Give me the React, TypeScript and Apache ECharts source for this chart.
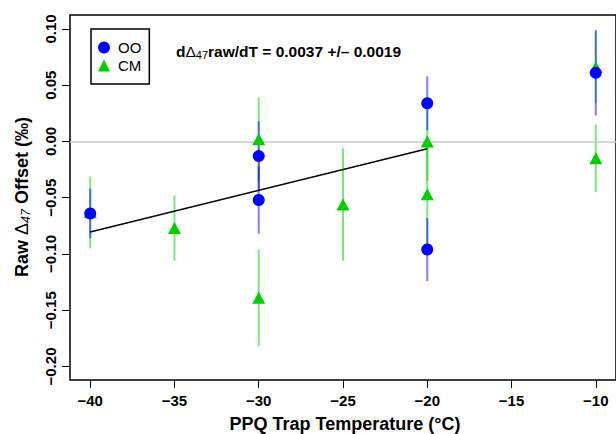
import React, { useEffect, useRef } from 'react';
import * as echarts from 'echarts';

// ---- Data ----
const ooTemps = [-40, -30, -30, -20, -20, -10];
const ooValues = [-0.064, -0.013, -0.052, 0.034, -0.096, 0.061];
const ooErrors = [0.022, 0.031, 0.030, 0.024, 0.028, 0.038];

const cmTemps = [-40, -35, -30, -30, -25, -20, -20, -10, -10];
const cmValues = [-0.063, -0.077, 0.002, -0.139, -0.056, 0.0, -0.047, 0.066, -0.015];
const cmErrors = [0.032, 0.029, 0.037, 0.043, 0.05, 0.035, 0.047, 0.032, 0.03];

const fitTemps = [-40, -20];
const fitValues = [-0.0805, -0.0065];

const slopeText = '0.0037';
const slopeErrText = '0.0019';

const xTicks = [-40, -35, -30, -25, -20, -15, -10];
const yTicks = [-0.2, -0.15, -0.1, -0.05, 0, 0.05, 0.1];

const FONT = '"Liberation Sans", Arial, Helvetica, sans-serif';
const BLUE = '#0000ff';
const GREEN = '#00cd00';
const BLUE_BAR = 'rgba(0,0,255,0.5)';
const GREEN_BAR = 'rgba(0,205,0,0.5)';

const minusify = (s: string) => s.replace('-', '\u2212');

function errorSeries(temps: number[], vals: number[], errs: number[], color: string, z: number) {
  return {
    type: 'custom',
    name: 'err' + z,
    z,
    silent: true,
    data: temps.map((t, i) => [t, vals[i] - errs[i], vals[i] + errs[i]]),
    encode: { x: 0, y: [1, 2] },
    renderItem: (_params: any, api: any) => {
      const p1 = api.coord([api.value(0), api.value(1)]);
      const p2 = api.coord([api.value(0), api.value(2)]);
      return {
        type: 'line',
        shape: { x1: p1[0], y1: p1[1], x2: p2[0], y2: p2[1] },
        style: { stroke: color, lineWidth: 2 },
      };
    },
  };
}

export default function App() {
  const ref = useRef<HTMLDivElement>(null);
  useEffect(() => {
    if (!ref.current) return;
    const chart = echarts.init(ref.current, undefined, { renderer: 'svg' });
    const option: any = {
      animation: false,
      textStyle: { fontFamily: FONT },
      grid: {
        show: true,
        left: 70,
        top: 15,
        width: 548,
        height: 365,
        borderColor: '#000',
        borderWidth: 1.5,
        backgroundColor: 'transparent',
      },
      xAxis: {
        type: 'value',
        min: -41.2,
        max: -8.8,
        axisLine: { show: false, onZero: false },
        splitLine: { show: false },
        axisTick: { show: true, length: 8, customValues: xTicks, lineStyle: { color: '#000', width: 1 } },
        axisLabel: {
          customValues: xTicks,
          margin: 13,
          fontSize: 15,
          fontWeight: 'bold',
          color: '#000',
          fontFamily: FONT,
          formatter: (v: number) => minusify(String(v)),
        },
      },
      yAxis: {
        type: 'value',
        min: -0.212,
        max: 0.1124,
        axisLine: { show: false, onZero: false },
        splitLine: { show: false },
        axisTick: { show: true, length: 8, customValues: yTicks, lineStyle: { color: '#000', width: 1 } },
        axisLabel: {
          customValues: yTicks,
          rotate: 90,
          margin: 12,
          fontSize: 15,
          fontWeight: 'bold',
          color: '#000',
          fontFamily: FONT,
          formatter: (v: number) => (Math.abs(v) < 1e-9 ? '0.00' : minusify(v.toFixed(2))),
        },
      },
      legend: {
        data: [
          { name: 'OO', icon: 'circle' },
          { name: 'CM', icon: 'triangle' },
        ],
        orient: 'vertical',
        left: 91,
        top: 29,
        padding: [11, 8, 11, 7],
        itemWidth: 12,
        itemHeight: 12,
        itemGap: 3,
        borderColor: '#000',
        borderWidth: 1.5,
        selectedMode: false,
        textStyle: { fontSize: 15, color: '#000', fontFamily: FONT, padding: [0, 0, 0, 3] },
      },
      graphic: [
        {
          type: 'text',
          x: 176,
          y: 51,
          style: {
            text: `{b|d}{g|\u0394}{s|47}{b|raw/dT = ${slopeText} +/\u2013 ${slopeErrText}}`,
            align: 'left',
            verticalAlign: 'middle',
            rich: {
              b: { fontSize: 15.5, fontWeight: 'bold', fontFamily: FONT, color: '#000', lineHeight: 18 },
              g: { fontSize: 15.5, fontWeight: 'normal', fontFamily: FONT, color: '#000', lineHeight: 18 },
              s: { fontSize: 11, fontFamily: FONT, color: '#000', lineHeight: 11, verticalAlign: 'bottom' },
            },
          },
        },
        {
          type: 'text',
          x: 345,
          y: 424,
          style: {
            text: 'PPQ Trap Temperature (\u00b0C)',
            align: 'center',
            verticalAlign: 'middle',
            fontSize: 18,
            fontWeight: 'bold',
            fontFamily: FONT,
            fill: '#000',
          },
        },
        {
          type: 'text',
          x: 22,
          y: 197,
          rotation: Math.PI / 2,
          style: {
            text: '{b|Raw }{g|\u0394}{s|47}{b| Offset (\u2030)}',
            align: 'center',
            verticalAlign: 'middle',
            rich: {
              b: { fontSize: 18, fontWeight: 'bold', fontFamily: FONT, color: '#000', lineHeight: 21 },
              g: { fontSize: 18, fontWeight: 'normal', fontFamily: FONT, color: '#000', lineHeight: 21 },
              s: { fontSize: 12.5, fontStyle: 'italic', fontFamily: FONT, color: '#000', lineHeight: 12, verticalAlign: 'bottom' },
            },
          },
        },
      ],
      series: [
        {
          type: 'line',
          name: 'zero',
          z: 1,
          data: [],
          silent: true,
          markLine: {
            silent: true,
            symbol: 'none',
            label: { show: false },
            lineStyle: { color: '#c8c8c8', width: 1.5, type: 'solid' },
            data: [{ yAxis: 0 }],
          },
        },
        errorSeries(cmTemps, cmValues, cmErrors, GREEN_BAR, 2),
        errorSeries(ooTemps, ooValues, ooErrors, BLUE_BAR, 3),
        {
          type: 'line',
          name: 'fit',
          z: 4,
          silent: true,
          symbol: 'none',
          data: fitTemps.map((t, i) => [t, fitValues[i]]),
          lineStyle: { color: '#000', width: 1.5 },
        },
        {
          type: 'scatter',
          name: 'CM',
          z: 5,
          symbol: 'triangle',
          symbolSize: [13, 12],
          itemStyle: { color: GREEN, opacity: 1 },
          data: cmTemps.map((t, i) => [t, cmValues[i]]),
        },
        {
          type: 'scatter',
          name: 'OO',
          z: 6,
          symbol: 'circle',
          symbolSize: 12,
          itemStyle: { color: BLUE, opacity: 1 },
          data: ooTemps.map((t, i) => [t, ooValues[i]]),
        },
      ],
    };
    chart.setOption(option);
    return () => chart.dispose();
  }, []);
  return <div ref={ref} style={{ position: 'absolute', left: 0, top: 0, width: 616, height: 434 }} />;
}
